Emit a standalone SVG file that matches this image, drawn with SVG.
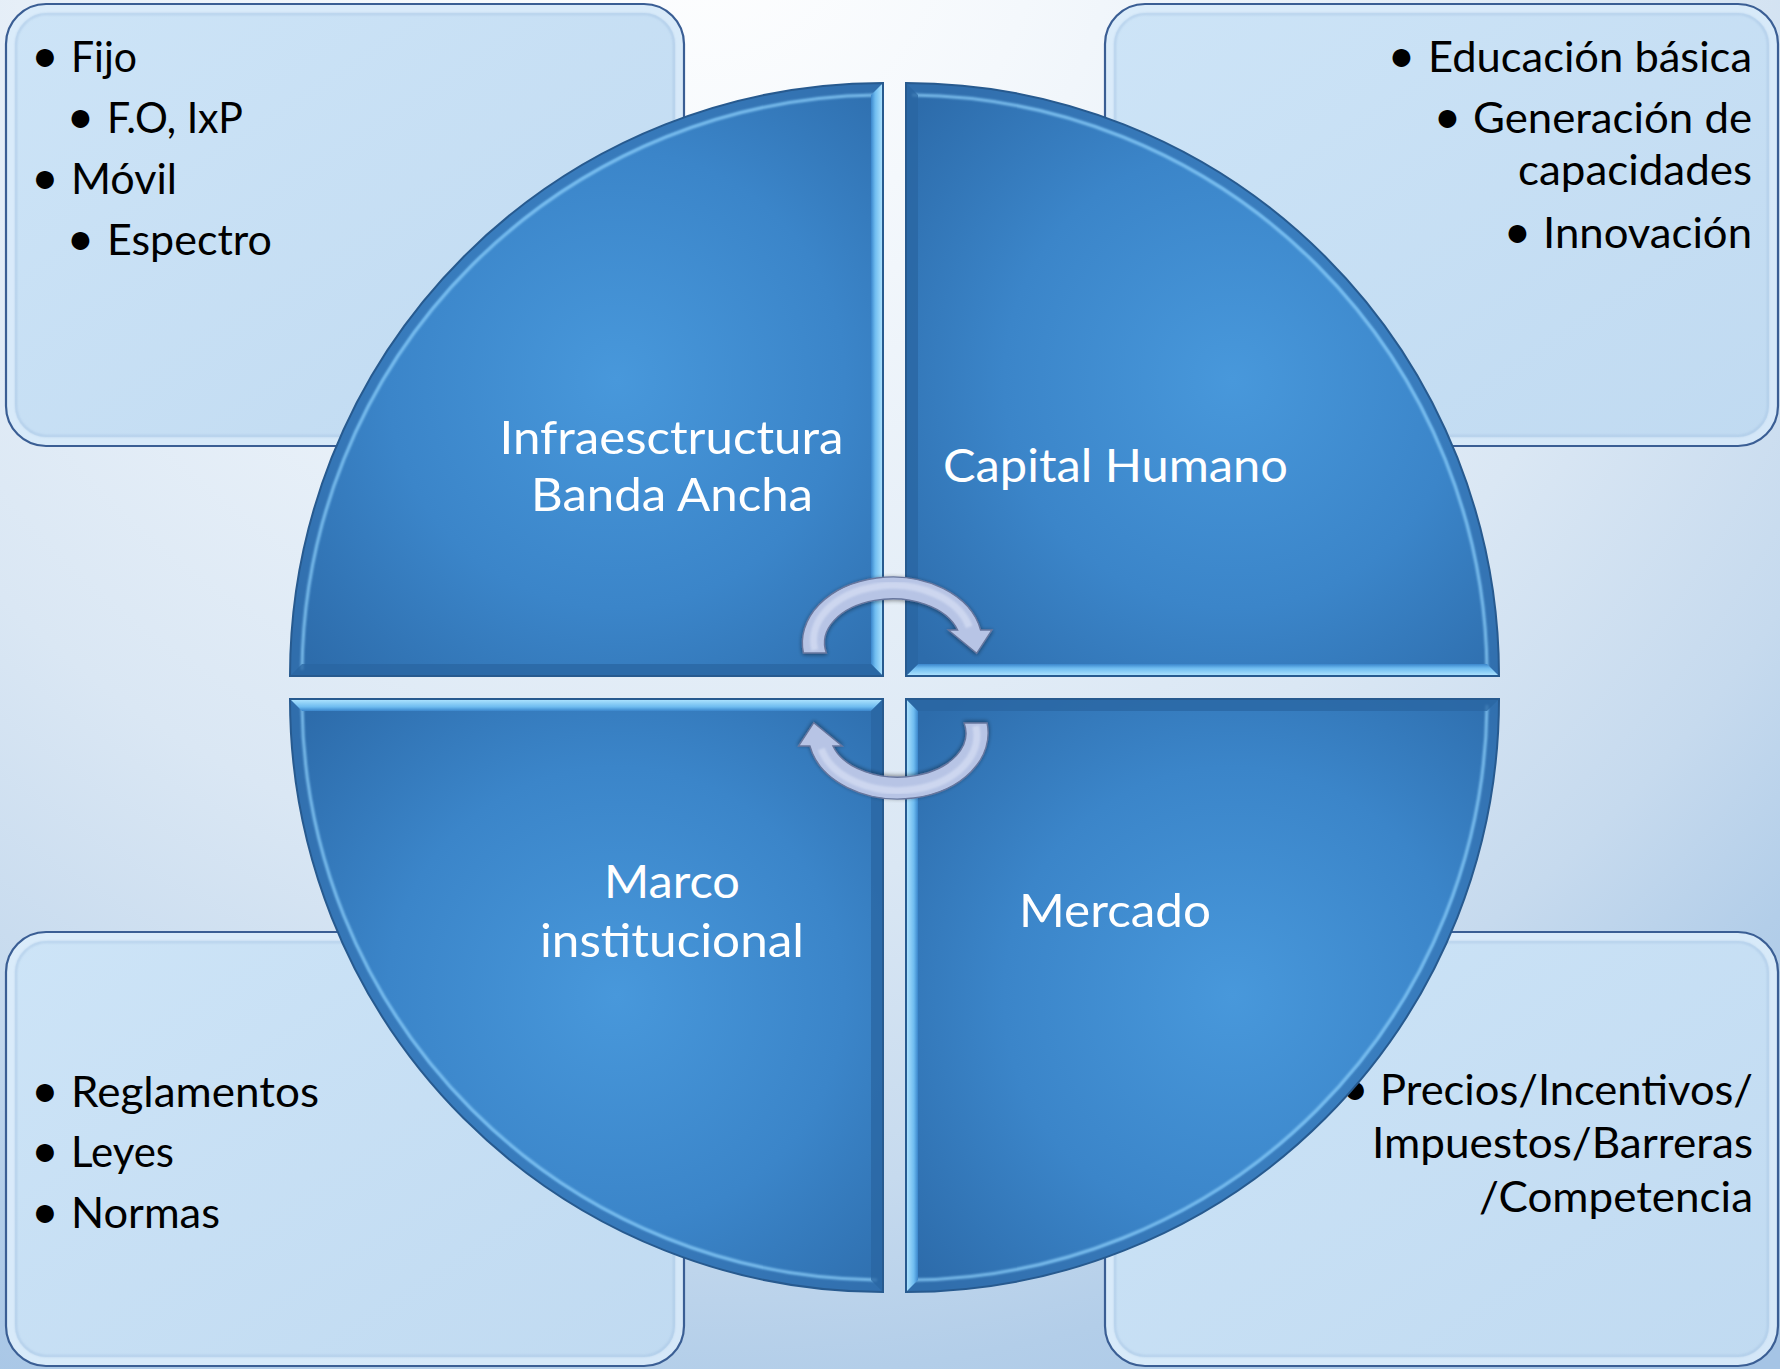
<svg xmlns="http://www.w3.org/2000/svg" width="1780" height="1369" viewBox="0 0 1780 1369">
<defs>
  <radialGradient id="bg" gradientUnits="userSpaceOnUse" cx="700" cy="-100" r="1700">
    <stop offset="0" stop-color="#ffffff"/>
    <stop offset="0.2" stop-color="#f4f8fc"/>
    <stop offset="0.58" stop-color="#dae7f4"/>
    <stop offset="0.76" stop-color="#c6daee"/>
    <stop offset="0.87" stop-color="#b3cee9"/>
    <stop offset="1" stop-color="#a5c4e5"/>
  </radialGradient>
  <linearGradient id="boxFill" x1="0" y1="0" x2="1" y2="1">
    <stop offset="0" stop-color="#cde4f7"/>
    <stop offset="1" stop-color="#c0daf1"/>
  </linearGradient>
  <radialGradient id="qFill" cx="0.55" cy="0.5" r="0.7">
    <stop offset="0" stop-color="#4898db"/>
    <stop offset="0.55" stop-color="#3b85c9"/>
    <stop offset="1" stop-color="#2d6cab"/>
  </radialGradient>
  <linearGradient id="hiR" x1="0" y1="0" x2="1" y2="0">
    <stop offset="0" stop-color="#3a86cc"/>
    <stop offset="0.35" stop-color="#6fbcf0"/>
    <stop offset="1" stop-color="#b2e6ff"/>
  </linearGradient>
  <linearGradient id="hiL" x1="1" y1="0" x2="0" y2="0">
    <stop offset="0" stop-color="#3a86cc"/>
    <stop offset="0.35" stop-color="#6fbcf0"/>
    <stop offset="1" stop-color="#b2e6ff"/>
  </linearGradient>
  <linearGradient id="hiB" x1="0" y1="0" x2="0" y2="1">
    <stop offset="0" stop-color="#3a86cc"/>
    <stop offset="0.35" stop-color="#6fbcf0"/>
    <stop offset="1" stop-color="#b2e6ff"/>
  </linearGradient>
  <linearGradient id="hiT" x1="0" y1="1" x2="0" y2="0">
    <stop offset="0" stop-color="#3a86cc"/>
    <stop offset="0.35" stop-color="#6fbcf0"/>
    <stop offset="1" stop-color="#b2e6ff"/>
  </linearGradient>
  <filter id="soft" x="-5%" y="-5%" width="110%" height="110%">
    <feGaussianBlur stdDeviation="1.2"/>
  </filter>
  <filter id="ashadow" x="-20%" y="-20%" width="140%" height="140%">
    <feGaussianBlur in="SourceAlpha" stdDeviation="2"/>
    <feOffset dx="0" dy="1" result="b"/>
    <feComponentTransfer><feFuncA type="linear" slope="0.45"/></feComponentTransfer>
    <feMerge><feMergeNode/><feMergeNode in="SourceGraphic"/></feMerge>
  </filter>
  <path id="arrowTop" d="M 803.4 653 A 90 66 0 0 1 980.6 630 L 992 630 L 976.7 653.3 L 948.3 630 L 957.6 630 A 68 44 0 0 0 826.4 653 Z"/>
</defs>
<style>
  .box { fill: url(#boxFill); }
  .boxGlow { fill: none; stroke: #e6f3fd; stroke-width: 9; opacity: 0.55; }
  .boxInner { fill: none; stroke: #a4c2e2; stroke-width: 1.6; opacity: 0.75; filter: url(#soft); }
  .boxEdge { fill: none; stroke: #3a5e94; stroke-width: 2.2; }
  .q { fill: url(#qFill); }
  .qBand { fill: none; stroke: #336fae; stroke-width: 10; opacity: 0.5; }
  .qHi { fill: none; stroke: #8ed0fb; stroke-width: 3; opacity: 0.8; filter: url(#soft); }
  .qEdge { fill: none; stroke: #275a8f; stroke-width: 2; }
  .dark { fill: #2a66a2; opacity: 0.75; }
  .lt { font-family: Lato, "Open Sans", "Liberation Sans", sans-serif; font-size: 42px; fill: #000000; }
  .bul { font-family: Lato, "Open Sans", "Liberation Sans", sans-serif; font-size: 48px; fill: #000000; text-anchor: middle; }
  .qt { font-family: Lato, "Open Sans", "Liberation Sans", sans-serif; font-size: 47px; fill: #ffffff; }
  .arrow { fill: #b7c4e5; stroke: #67769d; stroke-width: 1.4; }
  .arrowHi { fill: none; stroke: #d9e1f5; stroke-width: 7; opacity: 0.65; filter: url(#soft); }
</style>

<rect x="0" y="0" width="1780" height="1369" fill="url(#bg)"/>

<!-- outer boxes -->
<g id="box-infraestructura">
  <rect class="box" x="6" y="4" width="678" height="442" rx="40"/>
  <rect class="boxGlow" x="10.5" y="8.5" width="669" height="433" rx="36"/>
  <rect class="boxInner" x="16" y="14" width="658" height="422" rx="31"/>
  <rect class="boxEdge" x="6" y="4" width="678" height="442" rx="40"/>
  <text class="bul" x="45" y="72">•</text>
  <text class="lt" x="71" y="72" textLength="66" lengthAdjust="spacingAndGlyphs">Fijo</text>
  <text class="bul" x="80.5" y="133">•</text>
  <text class="lt" x="107" y="133" textLength="136" lengthAdjust="spacingAndGlyphs">F.O, IxP</text>
  <text class="bul" x="45" y="194">•</text>
  <text class="lt" x="71" y="194" textLength="106" lengthAdjust="spacingAndGlyphs">Móvil</text>
  <text class="bul" x="80.5" y="255">•</text>
  <text class="lt" x="107" y="255" textLength="165" lengthAdjust="spacingAndGlyphs">Espectro</text>
</g>

<g id="box-capital-humano">
  <rect class="box" x="1105" y="4" width="673" height="442" rx="40"/>
  <rect class="boxGlow" x="1109.5" y="8.5" width="664" height="433" rx="36"/>
  <rect class="boxInner" x="1115" y="14" width="653" height="422" rx="31"/>
  <rect class="boxEdge" x="1105" y="4" width="673" height="442" rx="40"/>
  <text class="bul" x="1401.5" y="72">•</text>
  <text class="lt" x="1428" y="72" textLength="324" lengthAdjust="spacingAndGlyphs">Educación básica</text>
  <text class="bul" x="1447.5" y="133">•</text>
  <text class="lt" x="1473" y="133" textLength="279" lengthAdjust="spacingAndGlyphs">Generación de</text>
  <text class="lt" x="1518" y="185" textLength="234" lengthAdjust="spacingAndGlyphs">capacidades</text>
  <text class="bul" x="1517.5" y="248">•</text>
  <text class="lt" x="1543" y="248" textLength="209" lengthAdjust="spacingAndGlyphs">Innovación</text>
</g>

<g id="box-marco">
  <rect class="box" x="6" y="932" width="678" height="434" rx="40"/>
  <rect class="boxGlow" x="10.5" y="936.5" width="669" height="425" rx="36"/>
  <rect class="boxInner" x="16" y="942" width="658" height="414" rx="31"/>
  <rect class="boxEdge" x="6" y="932" width="678" height="434" rx="40"/>
  <text class="bul" x="45" y="1107">•</text>
  <text class="lt" x="71" y="1107" textLength="248" lengthAdjust="spacingAndGlyphs">Reglamentos</text>
  <text class="bul" x="45" y="1167">•</text>
  <text class="lt" x="71" y="1167" textLength="103" lengthAdjust="spacingAndGlyphs">Leyes</text>
  <text class="bul" x="45" y="1228">•</text>
  <text class="lt" x="71" y="1228" textLength="149" lengthAdjust="spacingAndGlyphs">Normas</text>
</g>

<g id="box-mercado">
  <rect class="box" x="1105" y="932" width="673" height="434" rx="40"/>
  <rect class="boxGlow" x="1109.5" y="936.5" width="664" height="425" rx="36"/>
  <rect class="boxInner" x="1115" y="942" width="653" height="414" rx="31"/>
  <rect class="boxEdge" x="1105" y="932" width="673" height="434" rx="40"/>
  <text class="bul" x="1355" y="1105">•</text>
  <text class="lt" x="1380" y="1105" textLength="373" lengthAdjust="spacingAndGlyphs">Precios/Incentivos/</text>
  <text class="lt" x="1372" y="1158" textLength="381" lengthAdjust="spacingAndGlyphs">Impuestos/Barreras</text>
  <text class="lt" x="1479" y="1212" textLength="274" lengthAdjust="spacingAndGlyphs">/Competencia</text>
</g>

<!-- quadrants -->
<g id="q-infraestructura">
  <path class="q" d="M 883 676 L 290 676 A 593 593 0 0 1 883 83 Z"/>
  <path class="qBand" d="M 295 676 A 588 588 0 0 1 883 88"/>
  <path class="qHi" d="M 302 670 A 581 581 0 0 1 877 95"/>
  <polygon fill="url(#hiR)" points="871,95 883,83 883,676 871,664"/>
  <polygon class="dark" points="302,664 871,664 883,676 290,676"/>
  <path class="qEdge" d="M 883 676 L 290 676 A 593 593 0 0 1 883 83 Z"/>
  <text class="qt" x="499.5" y="454" textLength="344" lengthAdjust="spacingAndGlyphs">Infraesctructura</text>
  <text class="qt" x="531" y="511" textLength="282" lengthAdjust="spacingAndGlyphs">Banda Ancha</text>
</g>

<g id="q-capital-humano">
  <path class="q" d="M 906 676 L 906 83 A 593 593 0 0 1 1499 676 Z"/>
  <path class="qBand" d="M 906 88 A 588 588 0 0 1 1494 676"/>
  <path class="qHi" d="M 912 95 A 581 581 0 0 1 1487 670"/>
  <polygon fill="url(#hiB)" points="918,664 1487,664 1499,676 906,676"/>
  <polygon class="dark" points="906,83 918,95 918,664 906,676"/>
  <path class="qEdge" d="M 906 676 L 906 83 A 593 593 0 0 1 1499 676 Z"/>
  <text class="qt" x="943" y="482" textLength="345" lengthAdjust="spacingAndGlyphs">Capital Humano</text>
</g>

<g id="q-mercado">
  <path class="q" d="M 906 699 L 1499 699 A 593 593 0 0 1 906 1292 Z"/>
  <path class="qBand" d="M 1494 699 A 588 588 0 0 1 906 1287"/>
  <path class="qHi" d="M 1487 705 A 581 581 0 0 1 912 1280"/>
  <polygon fill="url(#hiL)" points="906,699 918,711 918,1280 906,1292"/>
  <polygon class="dark" points="906,699 1499,699 1487,711 918,711"/>
  <path class="qEdge" d="M 906 699 L 1499 699 A 593 593 0 0 1 906 1292 Z"/>
  <text class="qt" x="1019" y="927" textLength="192" lengthAdjust="spacingAndGlyphs">Mercado</text>
</g>

<g id="q-marco">
  <path class="q" d="M 883 699 L 883 1292 A 593 593 0 0 1 290 699 Z"/>
  <path class="qBand" d="M 883 1287 A 588 588 0 0 1 295 699"/>
  <path class="qHi" d="M 877 1280 A 581 581 0 0 1 302 705"/>
  <polygon fill="url(#hiT)" points="290,699 883,699 871,711 302,711"/>
  <polygon class="dark" points="871,711 883,699 883,1292 871,1280"/>
  <path class="qEdge" d="M 883 699 L 883 1292 A 593 593 0 0 1 290 699 Z"/>
  <text class="qt" x="604" y="898" textLength="136" lengthAdjust="spacingAndGlyphs">Marco</text>
  <text class="qt" x="540" y="957" textLength="264" lengthAdjust="spacingAndGlyphs">institucional</text>
</g>

<!-- cycle arrows -->
<g id="connectors">
  <g filter="url(#ashadow)">
    <use href="#arrowTop" class="arrow"/>
  </g>
  <path class="arrowHi" d="M 814.8 650 A 79 55 0 0 1 969.2 627"/>
  <g filter="url(#ashadow)" transform="rotate(180 895.25 688)">
    <use href="#arrowTop" class="arrow"/>
  </g>
  <path class="arrowHi" d="M 814.8 650 A 79 55 0 0 1 969.2 627" transform="rotate(180 895.25 688)"/>
</g>
</svg>
